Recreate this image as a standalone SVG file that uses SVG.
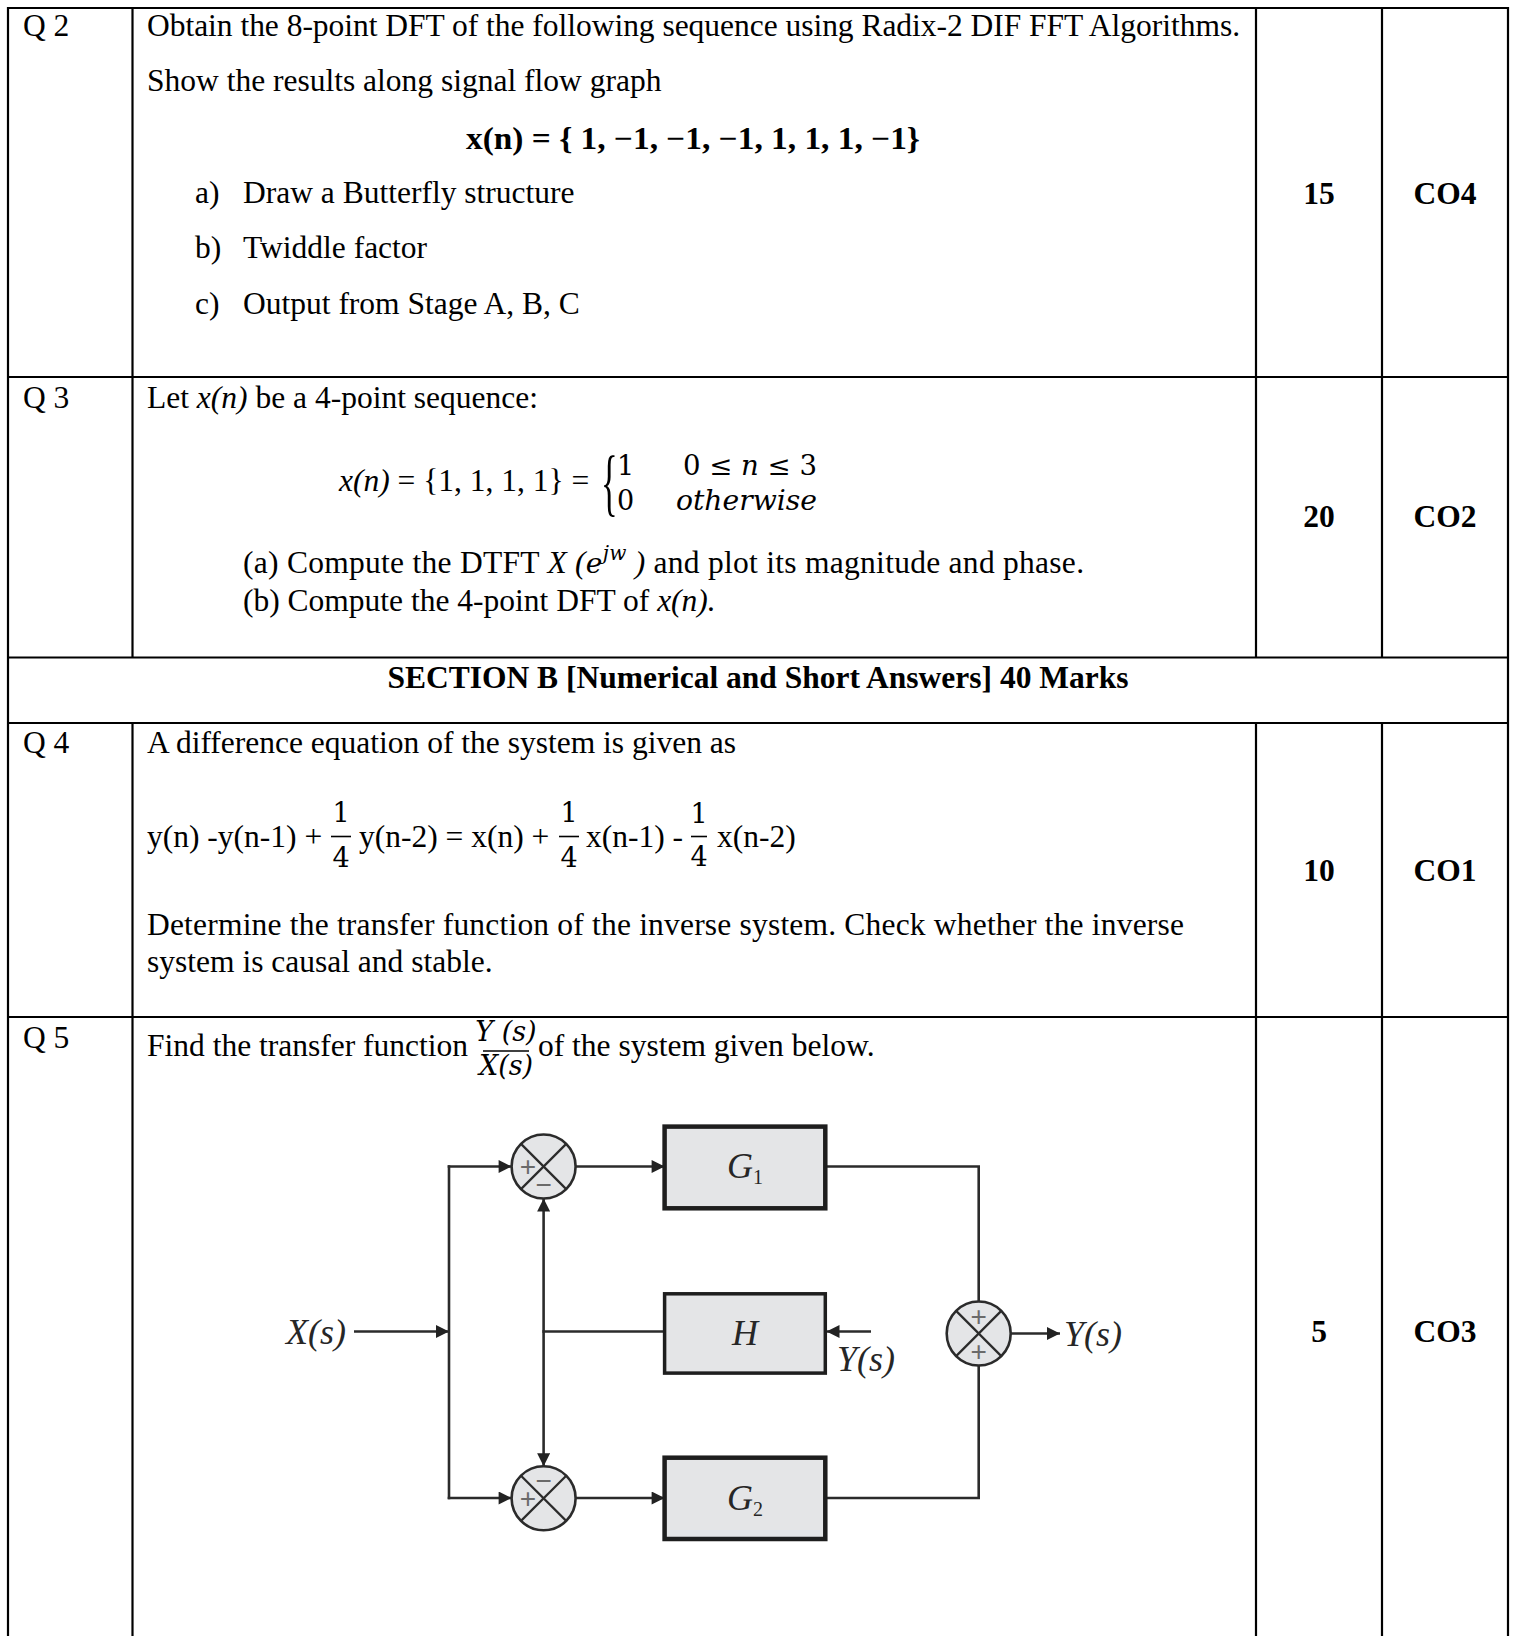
<svg xmlns="http://www.w3.org/2000/svg" width="1513" height="1636" viewBox="0 0 1513 1636">
<defs>
<style>
.t{font-family:"Liberation Serif","Times New Roman",serif;font-size:31.5px;fill:#000}
.b{font-weight:bold}
.i{font-style:italic}
.c{text-anchor:middle}
.m{font-family:"DejaVu Serif","Liberation Serif",serif;font-size:27px;fill:#000}
.grid{stroke:#000;stroke-width:2.2;fill:none}
.ln{stroke:#2b2b2b;stroke-width:2.6;fill:none}
.box{fill:#e4e5e7;stroke:#1e1e1e}
.sj{fill:#e4e5e7;stroke:#2b2b2b;stroke-width:2.6}
.x{stroke:#2b2b2b;stroke-width:2.2}
.sg{font-family:"Liberation Sans",sans-serif;font-size:28px;fill:#6a6a6a;text-anchor:middle}
.dl{font-family:"Liberation Serif","Times New Roman",serif;font-style:italic;font-size:36px;fill:#262626}
.fb{stroke:#000;stroke-width:1.6}
</style>
<marker id="ar" viewBox="0 0 10 10" refX="10" refY="5" markerWidth="15" markerHeight="13" markerUnits="userSpaceOnUse" orient="auto">
<path d="M0,0 L10,5 L0,10 z" fill="#222"/>
</marker>
</defs>
<rect width="1513" height="1636" fill="#fff"/>

<g id="table">
<line class="grid" x1="8" y1="8" x2="1508" y2="8"/>
<line class="grid" x1="8" y1="377" x2="1508" y2="377"/>
<line class="grid" x1="8" y1="657.5" x2="1508" y2="657.5"/>
<line class="grid" x1="8" y1="723" x2="1508" y2="723"/>
<line class="grid" x1="8" y1="1017" x2="1508" y2="1017"/>
<line class="grid" x1="8" y1="7" x2="8" y2="1636"/>
<line class="grid" x1="1508" y1="7" x2="1508" y2="1636"/>
<line class="grid" x1="132.5" y1="8" x2="132.5" y2="657.5"/>
<line class="grid" x1="132.5" y1="723" x2="132.5" y2="1636"/>
<line class="grid" x1="1256" y1="8" x2="1256" y2="657.5"/>
<line class="grid" x1="1256" y1="723" x2="1256" y2="1636"/>
<line class="grid" x1="1382" y1="8" x2="1382" y2="657.5"/>
<line class="grid" x1="1382" y1="723" x2="1382" y2="1636"/>
</g>

<g id="q2">
<text class="t" x="23" y="36">Q 2</text>
<text class="t" x="147" y="36" textLength="1093" lengthAdjust="spacing">Obtain the 8-point DFT of the following sequence using Radix-2 DIF FFT Algorithms.</text>
<text class="t" x="147" y="91">Show the results along signal flow graph</text>
<text class="t b" x="466" y="149" textLength="454" lengthAdjust="spacingAndGlyphs">x(n) = { 1, −1, −1, −1, 1, 1, 1, −1}</text>
<text class="t" x="195" y="203">a)</text>
<text class="t" x="243" y="203">Draw a Butterfly structure</text>
<text class="t" x="195" y="258">b)</text>
<text class="t" x="243" y="258">Twiddle factor</text>
<text class="t" x="195" y="314">c)</text>
<text class="t" x="243" y="314">Output from Stage A, B, C</text>
<text class="t b c" x="1319" y="204">15</text>
<text class="t b c" x="1445" y="204">CO4</text>
</g>

<g id="q3">
<text class="t" x="23" y="408">Q 3</text>
<text class="t" x="147" y="408">Let <tspan class="i">x(n)</tspan> be a 4-point sequence:</text>
<text class="t" x="339" y="491"><tspan class="i">x(n)</tspan> = {1, 1, 1, 1} =</text>
<text class="t" transform="translate(601,507) scale(1.1,2.35)" x="0" y="0">{</text>
<text class="m" x="617" y="475">1</text>
<text class="m" x="617" y="510">0</text>
<text class="m" x="683" y="475" textLength="134" lengthAdjust="spacingAndGlyphs">0 ≤ <tspan font-style="italic">n</tspan> ≤ 3</text>
<text class="m" x="676" y="510" font-style="italic" textLength="141" lengthAdjust="spacingAndGlyphs">otherwise</text>
<text class="t" x="243" y="573" textLength="841" lengthAdjust="spacing">(a)  Compute the DTFT <tspan class="i">X (</tspan><tspan font-family="DejaVu Serif" font-style="italic" font-size="28">e</tspan><tspan font-family="DejaVu Serif" font-style="italic" font-size="20" dy="-13">jw</tspan><tspan class="i" dy="13"> )</tspan> and plot its magnitude and phase.</text>
<text class="t" x="243" y="611">(b)  Compute the 4-point DFT of <tspan class="i">x(n).</tspan></text>
<text class="t b c" x="1319" y="527">20</text>
<text class="t b c" x="1445" y="527">CO2</text>
</g>

<g id="sectionB">
<text class="t b c" x="758" y="688">SECTION B [Numerical and Short Answers] 40 Marks</text>
</g>

<g id="q4">
<text class="t" x="23" y="753">Q 4</text>
<text class="t" x="147" y="753">A difference equation of the system is given as</text>
<text class="t" x="147" y="847">y(n) -y(n-1) +</text>
<text class="m c" x="341" y="822" font-size="25">1</text>
<line class="fb" x1="331" y1="836.5" x2="351" y2="836.5"/>
<text class="m c" x="341" y="867" font-size="25">4</text>
<text class="t" x="359" y="847">y(n-2) = x(n) +</text>
<text class="m c" x="569" y="822" font-size="25">1</text>
<line class="fb" x1="559" y1="836.5" x2="579" y2="836.5"/>
<text class="m c" x="569" y="867" font-size="25">4</text>
<text class="t" x="586" y="847">x(n-1) -</text>
<text class="m c" x="699" y="823" font-size="24">1</text>
<line class="fb" x1="691" y1="836.5" x2="707" y2="836.5"/>
<text class="m c" x="699" y="866" font-size="24">4</text>
<text class="t" x="717" y="847">x(n-2)</text>
<text class="t" x="147" y="935" textLength="1037" lengthAdjust="spacing">Determine the transfer function of the inverse system. Check whether the inverse</text>
<text class="t" x="147" y="972">system is causal and stable.</text>
<text class="t b c" x="1319" y="881">10</text>
<text class="t b c" x="1445" y="881">CO1</text>
</g>

<g id="q5">
<text class="t" x="23" y="1048">Q 5</text>
<text class="t" x="147" y="1056">Find the transfer function</text>
<text class="m c" x="506" y="1041" font-size="17" font-style="italic">Y (s)</text>
<line class="fb" x1="483" y1="1051" x2="529" y2="1051"/>
<text class="m c" x="506" y="1075" font-size="17" font-style="italic">X(s)</text>
<text class="t" x="538" y="1056">of the system given below.</text>
<text class="t b c" x="1319" y="1342">5</text>
<text class="t b c" x="1445" y="1342">CO3</text>
</g>

<g id="connectors">
<line class="ln" x1="354" y1="1331.5" x2="449" y2="1331.5" marker-end="url(#ar)"/>
<line class="ln" x1="449" y1="1165.3" x2="449" y2="1499.2"/>
<line class="ln" x1="447.7" y1="1166.5" x2="511.6" y2="1166.5" marker-end="url(#ar)"/>
<line class="ln" x1="447.7" y1="1498" x2="511.6" y2="1498" marker-end="url(#ar)"/>
<line class="ln" x1="575.6" y1="1166.5" x2="664.6" y2="1166.5" marker-end="url(#ar)"/>
<line class="ln" x1="575.6" y1="1498" x2="664.6" y2="1498" marker-end="url(#ar)"/>
<polyline class="ln" points="825.3,1166.5 978.7,1166.5 978.7,1301.5"/>
<polyline class="ln" points="825.3,1498 978.7,1498 978.7,1365.5"/>
<line class="ln" x1="664.6" y1="1331.5" x2="542.3" y2="1331.5"/>
<line class="ln" x1="543.6" y1="1331.5" x2="543.6" y2="1198.5" marker-end="url(#ar)"/>
<line class="ln" x1="543.6" y1="1331.5" x2="543.6" y2="1466.3" marker-end="url(#ar)"/>
<line class="ln" x1="871" y1="1331.5" x2="826.5" y2="1331.5" marker-end="url(#ar)"/>
<line class="ln" x1="1010.7" y1="1333.5" x2="1060" y2="1333.5" marker-end="url(#ar)"/>
</g>

<g id="xs-label"><text class="dl" x="286" y="1344">X(s)</text></g>

<g id="sum1">
<circle class="sj" cx="543.6" cy="1166.5" r="32"/>
<line class="x" x1="521" y1="1143.9" x2="566.2" y2="1189.1"/>
<line class="x" x1="566.2" y1="1143.9" x2="521" y2="1189.1"/>
<text class="sg" x="528" y="1176">+</text>
<text class="sg" x="543.6" y="1194">−</text>
</g>

<g id="sum2">
<circle class="sj" cx="543.6" cy="1498.3" r="32"/>
<line class="x" x1="521" y1="1475.7" x2="566.2" y2="1520.9"/>
<line class="x" x1="566.2" y1="1475.7" x2="521" y2="1520.9"/>
<text class="sg" x="543.6" y="1490">−</text>
<text class="sg" x="528" y="1508">+</text>
</g>

<g id="sum3">
<circle class="sj" cx="978.7" cy="1333.5" r="32"/>
<line class="x" x1="956.1" y1="1310.9" x2="1001.3" y2="1356.1"/>
<line class="x" x1="1001.3" y1="1310.9" x2="956.1" y2="1356.1"/>
<text class="sg" x="978.7" y="1326">+</text>
<text class="sg" x="978.7" y="1361">+</text>
</g>

<g id="G1">
<rect class="box" x="664.6" y="1126.6" width="160.7" height="81.7" stroke-width="4.5"/>
<text class="dl" x="745" y="1178" text-anchor="middle">G<tspan font-size="20" font-style="normal" dy="6">1</tspan></text>
</g>

<g id="H">
<rect class="box" x="664.6" y="1293.8" width="160.7" height="79.3" stroke-width="3.5"/>
<text class="dl" x="745" y="1345" text-anchor="middle">H</text>
</g>

<g id="G2">
<rect class="box" x="664.6" y="1457.7" width="160.7" height="81.3" stroke-width="4.5"/>
<text class="dl" x="745" y="1510" text-anchor="middle">G<tspan font-size="20" font-style="normal" dy="6">2</tspan></text>
</g>

<g id="ys-labels">
<text class="dl" x="837" y="1371">Y(s)</text>
<text class="dl" x="1064" y="1346">Y(s)</text>
</g>
</svg>
